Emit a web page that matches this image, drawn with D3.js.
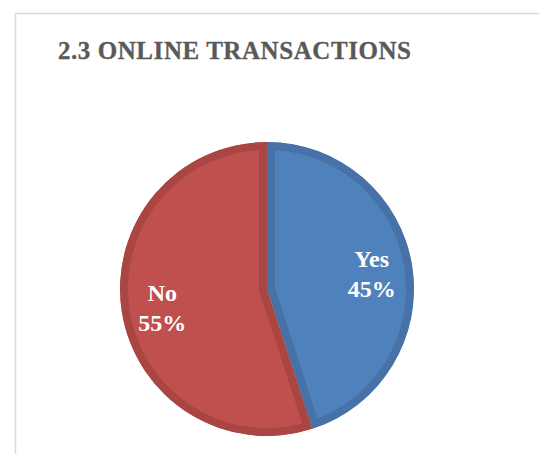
<!DOCTYPE html>
<html>
<head>
<meta charset="utf-8">
<script src="https://cdn.jsdelivr.net/npm/d3@7"></script>
<style>
  html, body { margin: 0; padding: 0; background: #fff; }
  svg { display: block; }
</style>
</head>
<body>
<svg id="chart"></svg>
<script>
// Chart data
const categories = ["Yes", "No"]
const values = [45, 55]
const fills = ["#4f81bd", "#c0504d"]
const edges = ["#4672a8", "#a94643"]
const title = "2.3 ONLINE TRANSACTIONS"

const width = 539
const height = 454
const cx = 267
const cy = 289
const radius = 147

const svg = d3.select("#chart")
  .attr("width", width)
  .attr("height", height)

// chart area frame (only top and left edges are visible)
svg.append("path")
  .attr("d", `M15.5,${height} V13.5 H${width}`)
  .attr("fill", "none")
  .attr("stroke", "#d9d9d9")
  .attr("stroke-width", 1.5)

svg.append("text")
  .attr("x", 58)
  .attr("y", 59)
  .attr("textLength", 353)
  .attr("lengthAdjust", "spacing")
  .style("font-family", "'Liberation Serif', serif")
  .style("font-weight", "bold")
  .style("font-size", "25px")
  .style("fill", "#595959")
  .style("stroke", "#595959")
  .style("stroke-width", 0.3)
  .text(title)

const data = categories.map((c, i) => ({name: c, value: values[i], fill: fills[i], edge: edges[i]}))

const pie = d3.pie()
  .sort(null)
  .value(d => d.value)

const arc = d3.arc()
  .innerRadius(0)
  .outerRadius(radius)

const labelArc = d3.arc()
  .innerRadius(106)
  .outerRadius(106)

const arcs = pie(data)
const g = svg.append("g").attr("transform", `translate(${cx},${cy})`)

// clip each slice so the thick edge only shows inside it
const defs = svg.append("defs")
arcs.forEach((d, i) => {
  defs.append("clipPath")
    .attr("id", "slice-clip-" + i)
    .append("path")
    .attr("d", arc(d))
})

g.selectAll("path.slice")
  .data(arcs)
  .join("path")
  .attr("class", "slice")
  .attr("d", arc)
  .attr("fill", d => d.data.fill)
  .attr("stroke", d => d.data.edge)
  .attr("stroke-width", 16)
  .attr("stroke-linejoin", "round")
  .attr("clip-path", (d, i) => `url(#slice-clip-${i})`)

const pct = d3.format(".0%")
const total = d3.sum(values)

const labels = g.selectAll("text.label")
  .data(arcs)
  .join("text")
  .attr("class", "label")
  .attr("transform", d => `translate(${labelArc.centroid(d)})`)
  .attr("text-anchor", "middle")
  .style("font-family", "'Liberation Serif', serif")
  .style("font-weight", "bold")
  .style("font-size", "24px")
  .style("fill", "#fff")

labels.append("tspan")
  .attr("x", 0)
  .attr("y", -5)
  .text(d => d.data.name)

labels.append("tspan")
  .attr("x", 0)
  .attr("y", 25)
  .text(d => pct(d.data.value / total))
</script>
</body>
</html>
